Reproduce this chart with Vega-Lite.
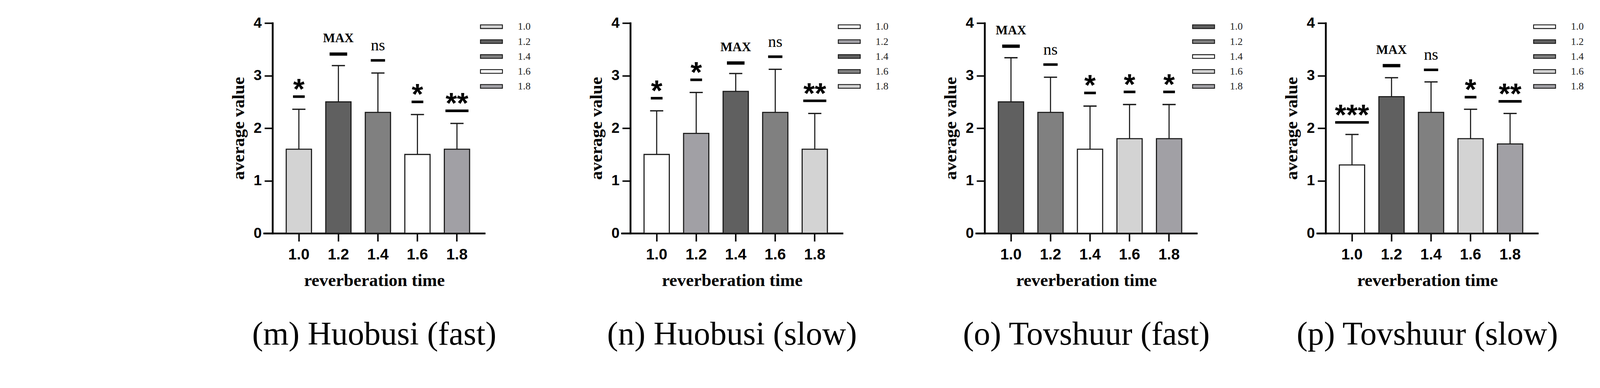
{
  "$schema": "https://vega.github.io/schema/vega-lite/v6.json",
  "description": "Average value by reverberation time, four panels (m-p), with SD error bars and significance marks.",
  "padding": {"left": 588, "top": 40, "right": 0, "bottom": 0},
  "background": "white",
  "data": {
    "values": [
      {"panel": "m", "rt": "1.0", "mean": 1.6, "upper": 2.36, "sig": 2.60, "label": "*"},
      {"panel": "m", "rt": "1.2", "mean": 2.5, "upper": 3.19, "sig": 3.41, "label": "MAX"},
      {"panel": "m", "rt": "1.4", "mean": 2.3, "upper": 3.05, "sig": 3.29, "label": "ns"},
      {"panel": "m", "rt": "1.6", "mean": 1.5, "upper": 2.26, "sig": 2.50, "label": "*"},
      {"panel": "m", "rt": "1.8", "mean": 1.6, "upper": 2.09, "sig": 2.33, "label": "**"},
      {"panel": "n", "rt": "1.0", "mean": 1.5, "upper": 2.33, "sig": 2.57, "label": "*"},
      {"panel": "n", "rt": "1.2", "mean": 1.9, "upper": 2.68, "sig": 2.92, "label": "*"},
      {"panel": "n", "rt": "1.4", "mean": 2.7, "upper": 3.04, "sig": 3.24, "label": "MAX"},
      {"panel": "n", "rt": "1.6", "mean": 2.3, "upper": 3.12, "sig": 3.36, "label": "ns"},
      {"panel": "n", "rt": "1.8", "mean": 1.6, "upper": 2.28, "sig": 2.52, "label": "**"},
      {"panel": "o", "rt": "1.0", "mean": 2.5, "upper": 3.34, "sig": 3.56, "label": "MAX"},
      {"panel": "o", "rt": "1.2", "mean": 2.3, "upper": 2.97, "sig": 3.21, "label": "ns"},
      {"panel": "o", "rt": "1.4", "mean": 1.6, "upper": 2.42, "sig": 2.67, "label": "*"},
      {"panel": "o", "rt": "1.6", "mean": 1.8, "upper": 2.45, "sig": 2.69, "label": "*"},
      {"panel": "o", "rt": "1.8", "mean": 1.8, "upper": 2.45, "sig": 2.69, "label": "*"},
      {"panel": "p", "rt": "1.0", "mean": 1.3, "upper": 1.88, "sig": 2.11, "label": "***"},
      {"panel": "p", "rt": "1.2", "mean": 2.6, "upper": 2.96, "sig": 3.19, "label": "MAX"},
      {"panel": "p", "rt": "1.4", "mean": 2.3, "upper": 2.88, "sig": 3.11, "label": "ns"},
      {"panel": "p", "rt": "1.6", "mean": 1.8, "upper": 2.36, "sig": 2.59, "label": "*"},
      {"panel": "p", "rt": "1.8", "mean": 1.7, "upper": 2.28, "sig": 2.51, "label": "**"}
    ]
  },
  "config": {
    "view": {"stroke": null},
    "axis": {
      "grid": false,
      "domainColor": "#000",
      "domainWidth": 4.7,
      "domainCap": "square",
      "tickColor": "#000",
      "tickWidth": 3.75,
      "tickSize": 20.6,
      "labelFont": "Liberation Sans",
      "labelFontWeight": "bold",
      "labelColor": "#000",
      "titleFont": "Liberation Serif",
      "titleFontWeight": "bold",
      "titleFontSize": 45,
      "titleColor": "#000"
    },
    "axisX": {"labelFontSize": 39.4, "labelAngle": 0, "labelPadding": 15, "titlePadding": 24.4},
    "axisY": {"labelFontSize": 37.5, "labelPadding": 7.5, "titlePadding": 15, "format": "d"},
    "legend": {
      "title": null,
      "padding": 0,
      "symbolType": "M-3,-0.5H3V0.5H-3Z",
      "symbolSize": 351,
      "symbolStrokeColor": "#1a1a1a",
      "symbolStrokeWidth": 2.3,
      "symbolOpacity": 1,
      "labelFont": "Liberation Serif",
      "labelFontSize": 26.2,
      "labelColor": "#222",
      "labelOffset": 54.4,
      "rowPadding": 11.2
    },
    "title": {
      "orient": "bottom",
      "font": "Liberation Serif",
      "fontSize": 84,
      "fontWeight": "normal",
      "color": "#000",
      "frame": "group",
      "anchor": "middle",
      "offset": 76
    }
  },
  "resolve": {"scale": {"fill": "independent"}, "legend": {"fill": "independent"}},
  "spacing": 136,
  "hconcat": [
    {
      "spacing": 145,
      "resolve": {"scale": {"fill": "independent"}, "legend": {"fill": "independent"}},
      "hconcat": [
        {
          "width": 564,
          "height": 538,
          "title": "(m) Huobusi (fast)",
          "transform": [{"filter": "datum.panel === 'm'"}],
          "encoding": {
            "x": {"field": "rt", "type": "ordinal", "sort": null, "title": "reverberation time",
                  "scale": {"paddingInner": 0.361, "paddingOuter": 0.4675, "align": 0.6}}
          },
          "layer": [
            {
              "mark": {"type": "bar", "stroke": "#1a1a1a", "strokeWidth": 2.8},
              "encoding": {
                "y": {"field": "mean", "type": "quantitative", "title": "average value",
                      "scale": {"domain": [0, 4], "nice": false},
                      "axis": {"values": [0, 1, 2, 3, 4], "offset": -21.6}},
                "fill": {"field": "rt", "type": "ordinal", "sort": null,
                         "scale": {"range": ["#d3d3d3", "#606060", "#808080", "#ffffff", "#a1a0a5"]},
                         "legend": {"orient": "none", "legendX": 569, "legendY": -3.8}}
              }
            },
            {
              "mark": {"type": "rule", "strokeWidth": 2.8, "color": "#1a1a1a"},
              "encoding": {"y": {"field": "mean", "type": "quantitative"}, "y2": {"field": "upper"}}
            },
            {
              "mark": {"type": "tick", "orient": "horizontal", "size": 33.7, "thickness": 3.3, "color": "#1a1a1a", "opacity": 1},
              "encoding": {"y": {"field": "upper", "type": "quantitative"}}
            },
            {
              "transform": [{"filter": "datum.label !== 'MAX'"}],
              "mark": {"type": "tick", "orient": "horizontal", "thickness": 6.6, "color": "#000", "opacity": 1},
              "encoding": {
                "y": {"field": "sig", "type": "quantitative"},
                "size": {"field": "label", "type": "nominal", "legend": null,
                         "scale": {"type": "ordinal", "domain": ["*", "**", "***", "ns"], "range": [30, 59, 86, 36.5]}}
              }
            },
            {
              "transform": [{"filter": "datum.label === 'MAX'"}],
              "mark": {"type": "tick", "orient": "horizontal", "size": 45, "thickness": 8.4, "color": "#000", "opacity": 1},
              "encoding": {"y": {"field": "sig", "type": "quantitative"}}
            },
            {
              "transform": [{"filter": "indexof(datum.label, '*') >= 0"}],
              "mark": {"type": "text", "font": "Liberation Sans", "fontWeight": "bold", "fontSize": 75, "baseline": "alphabetic", "dy": 5.6, "color": "#000"},
              "encoding": {"y": {"field": "sig", "type": "quantitative"}, "text": {"field": "label"}}
            },
            {
              "transform": [{"filter": "datum.label === 'MAX'"}],
              "mark": {"type": "text", "font": "Liberation Serif", "fontWeight": "bold", "fontSize": 32.8, "baseline": "alphabetic", "dy": -30, "color": "#000"},
              "encoding": {"y": {"field": "sig", "type": "quantitative"}, "text": {"field": "label"}}
            },
            {
              "transform": [{"filter": "datum.label === 'ns'"}],
              "mark": {"type": "text", "font": "Liberation Serif", "fontSize": 41.2, "baseline": "alphabetic", "dy": -25.3, "color": "#000"},
              "encoding": {"y": {"field": "sig", "type": "quantitative"}, "text": {"field": "label"}}
            }
          ]
        },
        {
          "width": 564,
          "height": 538,
          "title": "(n) Huobusi (slow)",
          "transform": [{"filter": "datum.panel === 'n'"}],
          "encoding": {
            "x": {"field": "rt", "type": "ordinal", "sort": null, "title": "reverberation time",
                  "scale": {"paddingInner": 0.361, "paddingOuter": 0.4675, "align": 0.6}}
          },
          "layer": [
            {
              "mark": {"type": "bar", "stroke": "#1a1a1a", "strokeWidth": 2.8},
              "encoding": {
                "y": {"field": "mean", "type": "quantitative", "title": "average value",
                      "scale": {"domain": [0, 4], "nice": false},
                      "axis": {"values": [0, 1, 2, 3, 4], "offset": -21.6}},
                "fill": {"field": "rt", "type": "ordinal", "sort": null,
                         "scale": {"range": ["#ffffff", "#a1a0a5", "#606060", "#808080", "#d3d3d3"]},
                         "legend": {"orient": "none", "legendX": 569, "legendY": -3.8}}
              }
            },
            {
              "mark": {"type": "rule", "strokeWidth": 2.8, "color": "#1a1a1a"},
              "encoding": {"y": {"field": "mean", "type": "quantitative"}, "y2": {"field": "upper"}}
            },
            {
              "mark": {"type": "tick", "orient": "horizontal", "size": 33.7, "thickness": 3.3, "color": "#1a1a1a", "opacity": 1},
              "encoding": {"y": {"field": "upper", "type": "quantitative"}}
            },
            {
              "transform": [{"filter": "datum.label !== 'MAX'"}],
              "mark": {"type": "tick", "orient": "horizontal", "thickness": 6.6, "color": "#000", "opacity": 1},
              "encoding": {
                "y": {"field": "sig", "type": "quantitative"},
                "size": {"field": "label", "type": "nominal", "legend": null,
                         "scale": {"type": "ordinal", "domain": ["*", "**", "***", "ns"], "range": [30, 59, 86, 36.5]}}
              }
            },
            {
              "transform": [{"filter": "datum.label === 'MAX'"}],
              "mark": {"type": "tick", "orient": "horizontal", "size": 45, "thickness": 8.4, "color": "#000", "opacity": 1},
              "encoding": {"y": {"field": "sig", "type": "quantitative"}}
            },
            {
              "transform": [{"filter": "indexof(datum.label, '*') >= 0"}],
              "mark": {"type": "text", "font": "Liberation Sans", "fontWeight": "bold", "fontSize": 75, "baseline": "alphabetic", "dy": 5.6, "color": "#000"},
              "encoding": {"y": {"field": "sig", "type": "quantitative"}, "text": {"field": "label"}}
            },
            {
              "transform": [{"filter": "datum.label === 'MAX'"}],
              "mark": {"type": "text", "font": "Liberation Serif", "fontWeight": "bold", "fontSize": 32.8, "baseline": "alphabetic", "dy": -30, "color": "#000"},
              "encoding": {"y": {"field": "sig", "type": "quantitative"}, "text": {"field": "label"}}
            },
            {
              "transform": [{"filter": "datum.label === 'ns'"}],
              "mark": {"type": "text", "font": "Liberation Serif", "fontSize": 41.2, "baseline": "alphabetic", "dy": -25.3, "color": "#000"},
              "encoding": {"y": {"field": "sig", "type": "quantitative"}, "text": {"field": "label"}}
            }
          ]
        }
      ]
    },
    {
      "spacing": 102,
      "resolve": {"scale": {"fill": "independent"}, "legend": {"fill": "independent"}},
      "hconcat": [
        {
          "width": 564,
          "height": 538,
          "title": "(o) Tovshuur (fast)",
          "transform": [{"filter": "datum.panel === 'o'"}],
          "encoding": {
            "x": {"field": "rt", "type": "ordinal", "sort": null, "title": "reverberation time",
                  "scale": {"paddingInner": 0.361, "paddingOuter": 0.4675, "align": 0.6}}
          },
          "layer": [
            {
              "mark": {"type": "bar", "stroke": "#1a1a1a", "strokeWidth": 2.8},
              "encoding": {
                "y": {"field": "mean", "type": "quantitative", "title": "average value",
                      "scale": {"domain": [0, 4], "nice": false},
                      "axis": {"values": [0, 1, 2, 3, 4], "offset": -21.6}},
                "fill": {"field": "rt", "type": "ordinal", "sort": null,
                         "scale": {"range": ["#606060", "#808080", "#ffffff", "#d3d3d3", "#a1a0a5"]},
                         "legend": {"orient": "none", "legendX": 569, "legendY": -3.8}}
              }
            },
            {
              "mark": {"type": "rule", "strokeWidth": 2.8, "color": "#1a1a1a"},
              "encoding": {"y": {"field": "mean", "type": "quantitative"}, "y2": {"field": "upper"}}
            },
            {
              "mark": {"type": "tick", "orient": "horizontal", "size": 33.7, "thickness": 3.3, "color": "#1a1a1a", "opacity": 1},
              "encoding": {"y": {"field": "upper", "type": "quantitative"}}
            },
            {
              "transform": [{"filter": "datum.label !== 'MAX'"}],
              "mark": {"type": "tick", "orient": "horizontal", "thickness": 6.6, "color": "#000", "opacity": 1},
              "encoding": {
                "y": {"field": "sig", "type": "quantitative"},
                "size": {"field": "label", "type": "nominal", "legend": null,
                         "scale": {"type": "ordinal", "domain": ["*", "**", "***", "ns"], "range": [30, 59, 86, 36.5]}}
              }
            },
            {
              "transform": [{"filter": "datum.label === 'MAX'"}],
              "mark": {"type": "tick", "orient": "horizontal", "size": 45, "thickness": 8.4, "color": "#000", "opacity": 1},
              "encoding": {"y": {"field": "sig", "type": "quantitative"}}
            },
            {
              "transform": [{"filter": "indexof(datum.label, '*') >= 0"}],
              "mark": {"type": "text", "font": "Liberation Sans", "fontWeight": "bold", "fontSize": 75, "baseline": "alphabetic", "dy": 5.6, "color": "#000"},
              "encoding": {"y": {"field": "sig", "type": "quantitative"}, "text": {"field": "label"}}
            },
            {
              "transform": [{"filter": "datum.label === 'MAX'"}],
              "mark": {"type": "text", "font": "Liberation Serif", "fontWeight": "bold", "fontSize": 32.8, "baseline": "alphabetic", "dy": -30, "color": "#000"},
              "encoding": {"y": {"field": "sig", "type": "quantitative"}, "text": {"field": "label"}}
            },
            {
              "transform": [{"filter": "datum.label === 'ns'"}],
              "mark": {"type": "text", "font": "Liberation Serif", "fontSize": 41.2, "baseline": "alphabetic", "dy": -25.3, "color": "#000"},
              "encoding": {"y": {"field": "sig", "type": "quantitative"}, "text": {"field": "label"}}
            }
          ]
        },
        {
          "width": 564,
          "height": 538,
          "title": "(p) Tovshuur (slow)",
          "transform": [{"filter": "datum.panel === 'p'"}],
          "encoding": {
            "x": {"field": "rt", "type": "ordinal", "sort": null, "title": "reverberation time",
                  "scale": {"paddingInner": 0.361, "paddingOuter": 0.4675, "align": 0.6}}
          },
          "layer": [
            {
              "mark": {"type": "bar", "stroke": "#1a1a1a", "strokeWidth": 2.8},
              "encoding": {
                "y": {"field": "mean", "type": "quantitative", "title": "average value",
                      "scale": {"domain": [0, 4], "nice": false},
                      "axis": {"values": [0, 1, 2, 3, 4], "offset": -21.6}},
                "fill": {"field": "rt", "type": "ordinal", "sort": null,
                         "scale": {"range": ["#ffffff", "#606060", "#808080", "#d3d3d3", "#a1a0a5"]},
                         "legend": {"orient": "none", "legendX": 569, "legendY": -3.8}}
              }
            },
            {
              "mark": {"type": "rule", "strokeWidth": 2.8, "color": "#1a1a1a"},
              "encoding": {"y": {"field": "mean", "type": "quantitative"}, "y2": {"field": "upper"}}
            },
            {
              "mark": {"type": "tick", "orient": "horizontal", "size": 33.7, "thickness": 3.3, "color": "#1a1a1a", "opacity": 1},
              "encoding": {"y": {"field": "upper", "type": "quantitative"}}
            },
            {
              "transform": [{"filter": "datum.label !== 'MAX'"}],
              "mark": {"type": "tick", "orient": "horizontal", "thickness": 6.6, "color": "#000", "opacity": 1},
              "encoding": {
                "y": {"field": "sig", "type": "quantitative"},
                "size": {"field": "label", "type": "nominal", "legend": null,
                         "scale": {"type": "ordinal", "domain": ["*", "**", "***", "ns"], "range": [30, 59, 86, 36.5]}}
              }
            },
            {
              "transform": [{"filter": "datum.label === 'MAX'"}],
              "mark": {"type": "tick", "orient": "horizontal", "size": 45, "thickness": 8.4, "color": "#000", "opacity": 1},
              "encoding": {"y": {"field": "sig", "type": "quantitative"}}
            },
            {
              "transform": [{"filter": "indexof(datum.label, '*') >= 0"}],
              "mark": {"type": "text", "font": "Liberation Sans", "fontWeight": "bold", "fontSize": 75, "baseline": "alphabetic", "dy": 5.6, "color": "#000"},
              "encoding": {"y": {"field": "sig", "type": "quantitative"}, "text": {"field": "label"}}
            },
            {
              "transform": [{"filter": "datum.label === 'MAX'"}],
              "mark": {"type": "text", "font": "Liberation Serif", "fontWeight": "bold", "fontSize": 32.8, "baseline": "alphabetic", "dy": -30, "color": "#000"},
              "encoding": {"y": {"field": "sig", "type": "quantitative"}, "text": {"field": "label"}}
            },
            {
              "transform": [{"filter": "datum.label === 'ns'"}],
              "mark": {"type": "text", "font": "Liberation Serif", "fontSize": 41.2, "baseline": "alphabetic", "dy": -25.3, "color": "#000"},
              "encoding": {"y": {"field": "sig", "type": "quantitative"}, "text": {"field": "label"}}
            }
          ]
        }
      ]
    }
  ]
}
